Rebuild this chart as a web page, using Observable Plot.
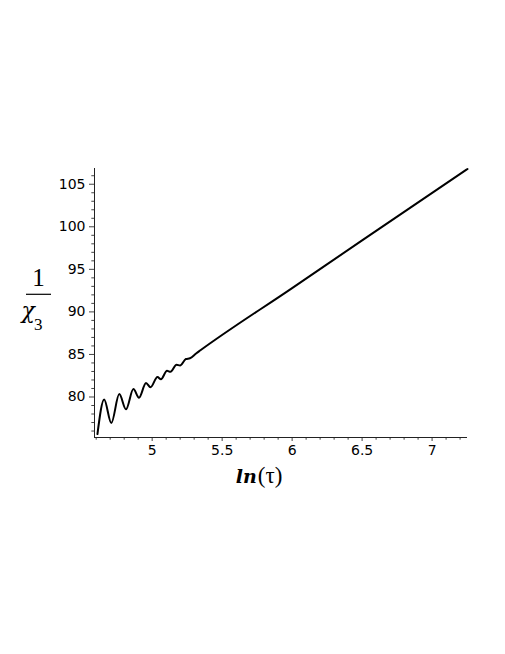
<!DOCTYPE html>
<html><head><meta charset="utf-8">
<script src="https://cdn.jsdelivr.net/npm/d3@7"></script>
<script src="https://cdn.jsdelivr.net/npm/@observablehq/plot@0.6"></script>
<style>body{margin:0;background:#fff}</style>
</head><body><div id="chart"></div>
<script>
// ln(tau) values and 1/chi_3 values
const lnTau = [4.609, 4.657, 4.708, 4.765, 4.813, 4.866, 4.906, 4.956, 4.988, 5.038, 5.063, 5.106, 5.131, 5.174, 5.199, 5.241, 5.270, 5.316, 5.345, 6.0, 6.5, 7.253];
const invChi3 = [75.64, 79.71, 76.93, 80.34, 78.55, 80.93, 79.91, 81.64, 81.14, 82.34, 82.08, 83.08, 82.96, 83.79, 83.69, 84.46, 84.55, 85.14, 85.49, 92.8, 98.4, 106.79];

const xDomain = [4.588, 7.253];
const yDomain = [75.24, 106.85];
const xMajorTicks = [5, 5.5, 6, 6.5, 7];
const xMinorTicks = [4.6, 4.7, 4.8, 4.9, 5.1, 5.2, 5.3, 5.4, 5.6, 5.7, 5.8, 5.9, 6.1, 6.2, 6.3, 6.4, 6.6, 6.7, 6.8, 6.9, 7.1, 7.2];
const yMajorTicks = [80, 85, 90, 95, 100, 105];
const yMinorTicks = [76, 77, 78, 79, 81, 82, 83, 84, 86, 87, 88, 89, 91, 92, 93, 94, 96, 97, 98, 99, 101, 102, 103, 104, 106];
const xTickLabels = ["5", "5.5", "6", "6.5", "7"];
const yTickLabels = ["80", "85", "90", "95", "100", "105"];
const xLabelFn = "ln";
const xLabelArg = "(τ)";
const yLabelNum = "1";
const yLabelSym = "χ";
const yLabelSub = "3";

const data = lnTau.map((x, i) => ({x, y: invChi3[i]}));

const chart = Plot.plot({
  width: 505,
  height: 654,
  marginLeft: 94,
  marginRight: 38,
  marginTop: 168,
  marginBottom: 217,
  style: {fontFamily: "DejaVu Sans", fontSize: "14px", background: "#fff", color: "#000"},
  x: {domain: xDomain},
  y: {domain: yDomain},
  marks: [
    Plot.axisX(xMinorTicks, {anchor: "bottom", tickSize: 2.7, tickFormat: () => "", label: null, stroke: "#444"}),
    Plot.axisX(xMajorTicks, {anchor: "bottom", tickSize: 4, tickPadding: 4, label: null, stroke: "#444", fill: "#000",
      tickFormat: (d, i) => xTickLabels[i]}),
    Plot.axisY(yMinorTicks, {anchor: "left", tickSize: 2.7, tickFormat: () => "", label: null, stroke: "#444"}),
    Plot.axisY(yMajorTicks, {anchor: "left", tickSize: 5, tickPadding: 4, label: null, stroke: "#444", fill: "#000",
      tickFormat: (d, i) => yTickLabels[i]}),
    Plot.ruleX([xDomain[0]], {stroke: "#222", strokeWidth: 1}),
    Plot.ruleY([yDomain[0]], {stroke: "#222", strokeWidth: 1}),
    Plot.line(data, {x: "x", y: "y", curve: "monotone-x", stroke: "#000", strokeWidth: 2})
  ]
});

const svg = d3.select(chart);
// tick label font
svg.selectAll("text").style("font-size", "14px").style("font-family", "'DejaVu Sans'").style("fill", "#000");

// y-axis title: fraction 1 / chi_3
svg.append("text").attr("x", 38.5).attr("y", 285.5).attr("text-anchor", "middle")
  .attr("font-family", "Liberation Serif").attr("font-size", 25).attr("fill", "#000").text(yLabelNum);
svg.append("line").attr("x1", 26).attr("x2", 51).attr("y1", 294.3).attr("y2", 294.3)
  .attr("stroke", "#000").attr("stroke-width", 1.2);
const yt = svg.append("text").attr("x", 32).attr("y", 318)
  .attr("font-family", "DejaVu Serif").attr("font-size", 22).attr("fill", "#000");
yt.append("tspan").attr("font-style", "italic").text(yLabelSym);
yt.append("tspan").attr("font-family", "Liberation Serif").attr("font-size", 17).attr("dy", 12).attr("dx", -1).text(yLabelSub);
// x-axis title: ln(tau)
const xt = svg.append("text").attr("x", 259).attr("y", 483).attr("fill", "#000");
xt.append("tspan").attr("font-family", "DejaVu Serif").attr("font-weight", "bold").attr("font-style", "italic").attr("font-size", 19).text(xLabelFn);
xt.append("tspan").attr("font-family", "Liberation Serif").attr("font-size", 23).attr("dx", 1).text(xLabelArg);

document.getElementById("chart").appendChild(chart);
</script>
</body></html>
